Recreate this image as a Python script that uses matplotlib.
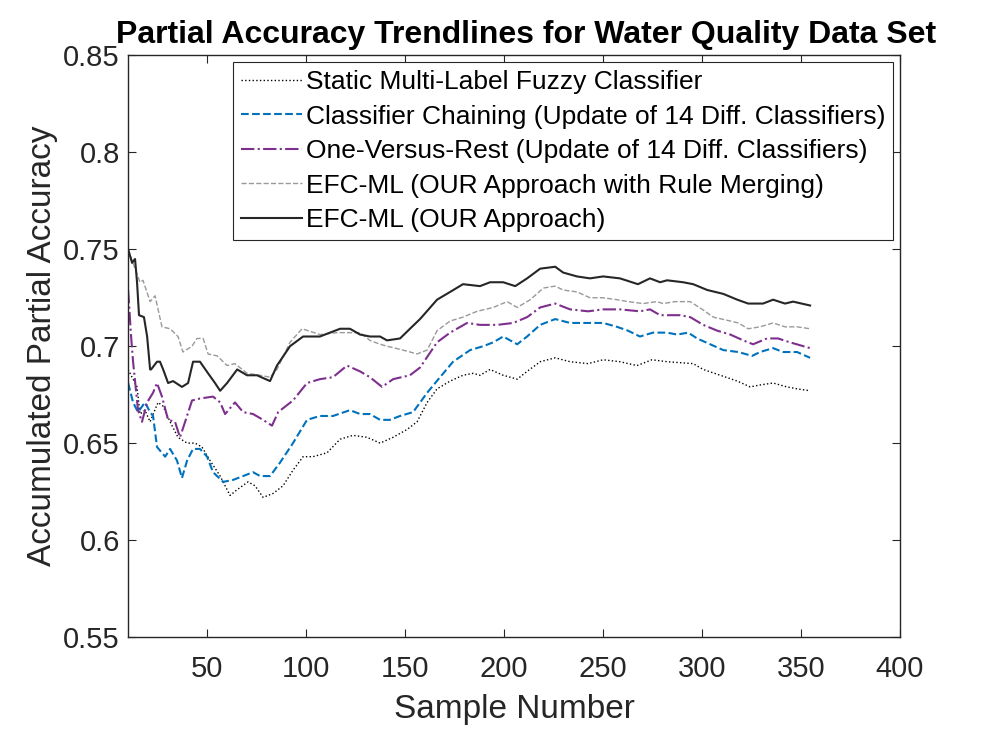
import matplotlib
matplotlib.use("Agg")
import matplotlib.pyplot as plt

plt.rcParams['font.family'] = ['Liberation Sans', 'DejaVu Sans']

# Static Multi-Label Fuzzy Classifier
x_static = [10, 14.5, 16, 18.5, 21.1, 25.1, 27.7, 31.2, 35.2, 39.8, 43.8, 47.3, 51.4, 56.5,
            61.5, 65.1, 70.6, 74.1, 78.2, 83.2, 88.3, 93.3, 98.4, 103.4, 110.5, 117.1, 123.6,
            130.7, 137.3, 143.9, 150.9, 156, 161.1, 166.1, 172.7, 179.2, 184.3, 187.8, 192.9,
            199.5, 206.6, 211.6, 218.2, 225.8, 233.3, 242.4, 250, 258.5, 267.1, 274.7, 282.3,
            295.5, 300.6, 309.2, 317.8, 324.3, 329.3, 335.9, 342.9, 348, 354.6]
y_static = [0.688, 0.679, 0.665, 0.667, 0.661, 0.671, 0.669, 0.661, 0.653, 0.650, 0.650, 0.648,
            0.641, 0.633, 0.623, 0.626, 0.630, 0.628, 0.622, 0.624, 0.628, 0.636, 0.643, 0.643,
            0.645, 0.652, 0.654, 0.653, 0.650, 0.653, 0.657, 0.661, 0.671, 0.678, 0.682, 0.685,
            0.686, 0.685, 0.688, 0.685, 0.683, 0.687, 0.692, 0.694, 0.692, 0.691, 0.693, 0.692,
            0.690, 0.693, 0.692, 0.691, 0.688, 0.685, 0.682, 0.679, 0.680, 0.681, 0.679, 0.678,
            0.677]

# Classifier Chaining
x_cc = [10, 12.5, 15, 18.5, 21.1, 22.6, 24.6, 28.7, 31.2, 34.7, 37.2, 39.8, 42.8, 46.3, 49.9,
        52.9, 58, 63, 68.1, 73.1, 76.7, 81.7, 86.8, 93.3, 100.4, 106.9, 113.5, 122.1, 127.2,
        132.2, 137.3, 142.3, 147.4, 154, 161.1, 167.6, 174.2, 182.8, 189.4, 194.5, 199.5,
        206.6, 211.6, 218.2, 225.8, 233.3, 241.9, 250, 257, 262.6, 268.6, 275.2, 282.3, 287.4,
        293, 297.5, 304.1, 310.7, 318.3, 325.3, 329.3, 335.9, 340.9, 348, 354.6]
y_cc = [0.681, 0.671, 0.666, 0.671, 0.666, 0.664, 0.648, 0.643, 0.647, 0.641, 0.632, 0.641,
        0.647, 0.647, 0.643, 0.635, 0.630, 0.631, 0.633, 0.635, 0.633, 0.633, 0.640, 0.650,
        0.662, 0.664, 0.664, 0.667, 0.665, 0.665, 0.662, 0.662, 0.664, 0.666, 0.676, 0.684,
        0.692, 0.698, 0.700, 0.702, 0.705, 0.701, 0.705, 0.711, 0.714, 0.712, 0.712, 0.712,
        0.710, 0.708, 0.705, 0.707, 0.707, 0.706, 0.707, 0.704, 0.701, 0.698, 0.697, 0.695,
        0.697, 0.699, 0.697, 0.697, 0.694]

# One-Versus-Rest
x_ovr = [10, 11.5, 12.5, 15, 17, 19.6, 22.6, 24.6, 27.1, 30.2, 33.7, 36.2, 38.8, 42.3, 46.3,
         52.9, 56.5, 59, 64, 68.1, 73.1, 78.2, 82.7, 85.8, 93.3, 100.4, 106.9, 113.5, 120.6,
         127.2, 132.2, 138.3, 143.9, 152.4, 157.5, 166.1, 172.7, 181.3, 187.8, 196.5, 204.6,
         211.6, 218.2, 225.8, 233.3, 242.4, 250, 258.5, 268.6, 273.7, 278.8, 288.9, 294, 300.6,
         307.7, 314.3, 320.8, 325.8, 332.8, 338.4, 344.4, 354.6]
y_ovr = [0.729, 0.705, 0.692, 0.667, 0.661, 0.671, 0.676, 0.681, 0.674, 0.662, 0.661, 0.653,
         0.661, 0.672, 0.673, 0.674, 0.671, 0.665, 0.671, 0.666, 0.665, 0.662, 0.659, 0.666,
         0.672, 0.681, 0.683, 0.684, 0.690, 0.687, 0.684, 0.679, 0.683, 0.685, 0.689, 0.702,
         0.707, 0.712, 0.711, 0.711, 0.712, 0.715, 0.720, 0.722, 0.719, 0.718, 0.719, 0.719,
         0.718, 0.719, 0.716, 0.716, 0.715, 0.711, 0.708, 0.706, 0.703, 0.701, 0.704, 0.704,
         0.702, 0.699]

# EFC-ML with rule merging
x_merge = [10, 13.5, 16, 17.5, 21.1, 23.6, 27.1, 31.2, 35.2, 37.7, 42.3, 44.8, 47.9, 50.4, 55,
           60, 64, 70.1, 76.7, 81.7, 85.2, 91.8, 97.9, 106.9, 115.5, 127.2, 132.2, 137.3,
           140.8, 148.9, 156, 161.1, 166.1, 172.7, 179.2, 186.3, 194.5, 201.5, 206.6, 213.2,
           219.8, 225.8, 229.8, 236.8, 243.4, 250, 257, 262.6, 270.2, 277.2, 280.3, 286.4, 294,
           300.1, 305.7, 314.3, 318.3, 323.3, 329.3, 335.9, 341.9, 348, 354.6]
y_merge = [0.750, 0.740, 0.733, 0.734, 0.723, 0.726, 0.710, 0.709, 0.705, 0.697, 0.700, 0.704,
           0.704, 0.696, 0.695, 0.690, 0.691, 0.686, 0.685, 0.684, 0.688, 0.702, 0.709, 0.706,
           0.707, 0.707, 0.703, 0.701, 0.700, 0.698, 0.696, 0.698, 0.708, 0.713, 0.715, 0.718,
           0.720, 0.723, 0.720, 0.724, 0.730, 0.731, 0.729, 0.728, 0.725, 0.725, 0.724, 0.723,
           0.722, 0.723, 0.722, 0.723, 0.723, 0.719, 0.715, 0.713, 0.712, 0.709, 0.710, 0.712,
           0.710, 0.710, 0.709]

# EFC-ML
x_efc = [10, 12, 13.5, 14.5, 15.5, 18, 19.6, 21.1, 21.6, 24.6, 26.1, 27.7, 30.2, 32.7, 37.2,
         40.3, 42.8, 46.3, 50.4, 53.9, 56.5, 60, 65.1, 70.1, 75.1, 81.7, 85.2, 91.8, 98.4,
         106.9, 117.1, 122.1, 127.2, 132.2, 137.3, 140.8, 147.4, 152.4, 157.5, 166.1, 172.7,
         179.2, 187.8, 192.9, 199.5, 205.6, 211.6, 218.2, 225.8, 229.8, 236.8, 243.4, 250,
         258.5, 267.6, 273.7, 278.8, 282.3, 290.4, 295.5, 302.6, 310.7, 317.8, 323.3, 330.8,
         335.9, 341.9, 346, 354.6]
y_efc = [0.750, 0.743, 0.745, 0.733, 0.716, 0.715, 0.705, 0.688, 0.688, 0.692, 0.692, 0.688,
         0.681, 0.682, 0.679, 0.681, 0.692, 0.692, 0.686, 0.681, 0.677, 0.681, 0.688, 0.685,
         0.685, 0.682, 0.690, 0.700, 0.705, 0.705, 0.709, 0.709, 0.706, 0.705, 0.705, 0.703,
         0.704, 0.709, 0.714, 0.724, 0.728, 0.732, 0.731, 0.733, 0.733, 0.731, 0.735, 0.740,
         0.741, 0.738, 0.736, 0.735, 0.736, 0.735, 0.732, 0.735, 0.733, 0.734, 0.733, 0.732,
         0.729, 0.727, 0.724, 0.722, 0.722, 0.724, 0.722, 0.723, 0.721]

labels = ['Static Multi-Label Fuzzy Classifier',
          'Classifier Chaining (Update of 14 Diff. Classifiers)',
          'One-Versus-Rest (Update of 14 Diff. Classifiers)',
          'EFC-ML (OUR Approach with Rule Merging)',
          'EFC-ML (OUR Approach)']

axcol = '#262626'

fig = plt.figure(figsize=(9.94, 7.29), dpi=100)
ax = fig.add_axes([0.1289, 0.1263, 0.7765, 0.7976])

ax.plot(x_static, y_static, ':', color='black', linewidth=1.0, label=labels[0])
ax.plot(x_cc, y_cc, '--', color='#0072BD', linewidth=1.5, label=labels[1])
ax.plot(x_ovr, y_ovr, '-.', color='#7E2F8E', linewidth=1.5, label=labels[2])
ax.plot(x_merge, y_merge, '--', color='#999999', linewidth=1.0, label=labels[3])
ax.plot(x_efc, y_efc, '-', color='#262626', linewidth=1.5, label=labels[4])

ax.set_xlim([10, 400])
ax.set_ylim([0.55, 0.85])
ax.set_xticks([50, 100, 150, 200, 250, 300, 350, 400])
ax.set_yticks([0.55, 0.6, 0.65, 0.7, 0.75, 0.8, 0.85])
ax.set_yticklabels(['0.55', '0.6', '0.65', '0.7', '0.75', '0.8', '0.85'])
ax.tick_params(direction='in', length=6, width=0.8, top=True, right=True,
               labelsize=21, colors=axcol)
ax.tick_params(axis='x', pad=13)
ax.tick_params(axis='y', pad=6)
for s in ax.spines.values():
    s.set_color(axcol)
    s.set_linewidth(1.0)

ax.set_xlabel('Sample Number', fontsize=24, color=axcol, labelpad=8)
ax.set_ylabel('Accumulated Partial Accuracy', fontsize=24, color=axcol, labelpad=4)
ax.set_title('Partial Accuracy Trendlines for Water Quality Data Set',
             fontsize=23, fontweight='bold', pad=9, x=0.515)

leg = ax.legend(loc='upper right', fontsize=19, handlelength=2.3, handletextpad=0.15,
                labelspacing=0.4, borderaxespad=0.25, borderpad=0.3, fancybox=False,
                framealpha=1)
leg.get_frame().set_edgecolor(axcol)
leg.get_frame().set_linewidth(0.8)

fig.savefig('out.png', dpi=100)
